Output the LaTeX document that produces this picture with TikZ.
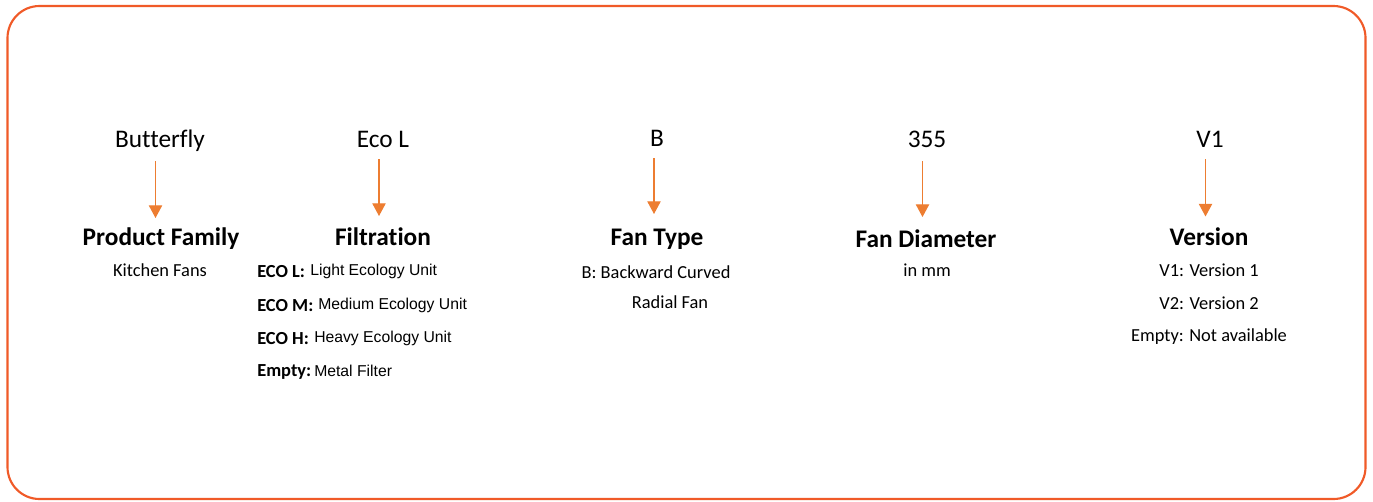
\documentclass[tikz,border=0pt]{standalone}
\usepackage{fontspec}
\setmainfont{Carlito}[Ligatures={NoCommon}]
\newfontfamily\arialf{Liberation Sans}
\usetikzlibrary{arrows.meta}
\definecolor{frameorange}{RGB}{240,90,40}
\definecolor{arroworange}{RGB}{237,125,49}
\tikzset{
  code/.style={font=\fontsize{19pt}{22pt}\selectfont, anchor=base, inner sep=0pt},
  head/.style={font=\fontsize{19pt}{22pt}\selectfont\bfseries, anchor=base, inner sep=0pt},
  sub/.style={font=\fontsize{13.8pt}{16pt}\selectfont, anchor=base, inner sep=0pt},
  subb/.style={font=\fontsize{13.8pt}{16pt}\selectfont\bfseries, anchor=base west, inner sep=0pt},
  suba/.style={font=\fontsize{11.8pt}{14pt}\selectfont\arialf, anchor=base west, inner sep=0pt},
  arr/.style={draw=arroworange, line width=0.9pt, -{Triangle[width=10pt,length=9.5pt]}},
}
\begin{document}
\begin{tikzpicture}[x=0.75pt,y=-0.75pt]
\useasboundingbox (0,0) rectangle (1373,501);
\draw[frameorange, line width=1.6pt, rounded corners=24pt] (7.5,6) rectangle (1365.5,499);

% column 1
\node[code] (t1) at (160,147) {Butterfly};
\node[head] (h1) at (161,245) {Product Family};
\node[sub] (s1) at (160,276) {Kitchen Fans};
\coordinate (a1s) at (155.5,161);
\coordinate (a1e) at (155.5,218);
\draw[arr] (a1s) -- (a1e);

% column 2
\node[code] (t2) at (383,147) {Eco L};
\node[head] (h2) at (383,245) {Filtration};
\node[subb] (k21) at (257,277) {ECO L:};
\node[suba] (v21) at (310,275) {Light Ecology Unit};
\node[subb] (k22) at (257,311) {ECO M:};
\node[suba] (v22) at (318,309) {Medium Ecology Unit};
\node[subb] (k23) at (257,344) {ECO H:};
\node[suba] (v23) at (314,342) {Heavy Ecology Unit};
\node[subb] (k24) at (257,376) {Empty:};
\node[suba] (v24) at (314,376) {Metal Filter};
\coordinate (a2s) at (379,159);
\coordinate (a2e) at (379,216);
\draw[arr] (a2s) -- (a2e);

% column 3
\node[code] (t3) at (657,146) {B};
\node[head] (h3) at (657,245) {Fan Type};
\node[sub] (s31) at (656,278) {B: Backward Curved};
\node[sub] (s32) at (670,308) {Radial Fan};
\coordinate (a3s) at (654,158);
\coordinate (a3e) at (654,214);
\draw[arr] (a3s) -- (a3e);

% column 4
\node[code] (t4) at (927,147) {355};
\node[head] (h4) at (926,247) {Fan Diameter};
\node[sub] (s4) at (927,276) {in mm};
\coordinate (a4s) at (922.5,161);
\coordinate (a4e) at (922.5,217);
\draw[arr] (a4s) -- (a4e);

% column 5
\node[code] (t5) at (1210,147) {V1};
\node[head] (h5) at (1209,245) {Version};
\node[sub] (s51) at (1209,276) {V1: Version 1};
\node[sub] (s52) at (1209,309) {V2: Version 2};
\node[sub] (s53) at (1209,341) {Empty: Not available};
\coordinate (a5s) at (1205.5,159);
\coordinate (a5e) at (1205.5,216.5);
\draw[arr] (a5s) -- (a5e);
\end{tikzpicture}
\end{document}
